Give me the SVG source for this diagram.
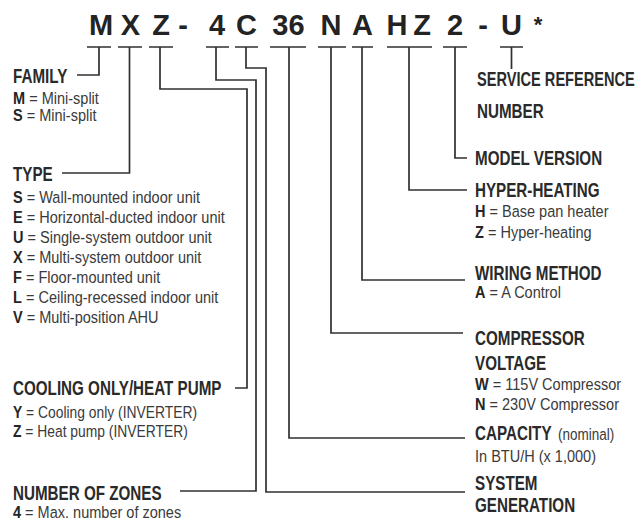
<svg xmlns="http://www.w3.org/2000/svg" width="639" height="521" viewBox="0 0 639 521">
<style>
.hd{font-family:"Liberation Sans",Arial,sans-serif;font-weight:bold;font-size:29px;fill:#232323;text-anchor:middle}
.h{font-family:"Liberation Sans",Arial,sans-serif;font-weight:bold;font-size:20px;fill:#2a2a2a}
.b{font-family:"Liberation Sans",Arial,sans-serif;font-size:16.5px;fill:#3a3a3a}
.k{font-weight:bold;fill:#252525}
.ln{fill:none;stroke:#303030;stroke-width:1.7}
</style>
<rect width="639" height="521" fill="#ffffff"/>
<g id="code">
<text class="hd" x="101" y="35">M</text>
<text class="hd" x="130.5" y="35">X</text>
<text class="hd" x="161" y="35">Z</text>
<text class="hd" x="183" y="35">-</text>
<text class="hd" x="217" y="35">4</text>
<text class="hd" x="246.5" y="35">C</text>
<text class="hd" x="288.5" y="35">36</text>
<text class="hd" x="331" y="35">N</text>
<text class="hd" x="362.5" y="35">A</text>
<text class="hd" x="397" y="35">H</text>
<text class="hd" x="422" y="35">Z</text>
<text class="hd" x="455" y="35">2</text>
<text class="hd" x="483" y="35">-</text>
<text class="hd" x="511.5" y="35">U</text>
<text class="hd" x="538" y="32" style="font-size:22px">*</text>
</g>
<g id="connectors">
<path class="ln" d="M87,47H111M99,47V75H77"/>
<path class="ln" d="M118,47H142M129.5,47V173H62"/>
<path class="ln" d="M149,47H173M160,47V89H247V388H235"/>
<path class="ln" d="M206,47H229M216,47V80H256V491H180"/>
<path class="ln" d="M235,47H258M246,47V68H266V492H465"/>
<path class="ln" d="M270,47H306M289,47V438H465"/>
<path class="ln" d="M318,47H346M331,47V333H463"/>
<path class="ln" d="M352,47H373M362,47V280H465"/>
<path class="ln" d="M387,47H432M409,47V190H467"/>
<path class="ln" d="M443,47H467M455,47V158H467"/>
<path class="ln" d="M500,47H523M511.5,47V69"/>
</g>
<g id="family">
<text class="h" transform="translate(13,83) scale(0.76,1)">FAMILY</text>
<text class="b" transform="translate(13,104) scale(0.88,1)"><tspan class="k">M</tspan> = Mini-split</text>
<text class="b" transform="translate(13,121) scale(0.88,1)"><tspan class="k">S</tspan> = Mini-split</text>
</g>
<g id="type">
<text class="h" transform="translate(13,181) scale(0.76,1)">TYPE</text>
<text class="b" transform="translate(13,203) scale(0.88,1)"><tspan class="k">S</tspan> = Wall-mounted indoor unit</text>
<text class="b" transform="translate(13,223) scale(0.88,1)"><tspan class="k">E</tspan> = Horizontal-ducted indoor unit</text>
<text class="b" transform="translate(13,243) scale(0.88,1)"><tspan class="k">U</tspan> = Single-system outdoor unit</text>
<text class="b" transform="translate(13,263) scale(0.88,1)"><tspan class="k">X</tspan> = Multi-system outdoor unit</text>
<text class="b" transform="translate(13,283) scale(0.88,1)"><tspan class="k">F</tspan> = Floor-mounted unit</text>
<text class="b" transform="translate(13,303) scale(0.88,1)"><tspan class="k">L</tspan> = Ceiling-recessed indoor unit</text>
<text class="b" transform="translate(13,323) scale(0.88,1)"><tspan class="k">V</tspan> = Multi-position AHU</text>
</g>
<g id="cooling">
<text class="h" transform="translate(13,395) scale(0.76,1)">COOLING ONLY/HEAT PUMP</text>
<text class="b" transform="translate(13,418) scale(0.84,1)"><tspan class="k">Y</tspan> = Cooling only (INVERTER)</text>
<text class="b" transform="translate(13,437) scale(0.84,1)"><tspan class="k">Z</tspan> = Heat pump (INVERTER)</text>
</g>
<g id="zones">
<text class="h" transform="translate(13,500) scale(0.76,1)">NUMBER OF ZONES</text>
<text class="b" transform="translate(13,518) scale(0.88,1)"><tspan class="k">4</tspan> = Max. number of zones</text>
</g>
<g id="service">
<text class="h" transform="translate(477,86) scale(0.73,1)">SERVICE REFERENCE</text>
<text class="h" transform="translate(477,118) scale(0.76,1)">NUMBER</text>
</g>
<g id="model">
<text class="h" transform="translate(475,165) scale(0.76,1)">MODEL VERSION</text>
</g>
<g id="hyper">
<text class="h" transform="translate(475,197) scale(0.76,1)">HYPER-HEATING</text>
<text class="b" transform="translate(475,217) scale(0.88,1)"><tspan class="k">H</tspan> = Base pan heater</text>
<text class="b" transform="translate(475,238) scale(0.88,1)"><tspan class="k">Z</tspan> = Hyper-heating</text>
</g>
<g id="wiring">
<text class="h" transform="translate(475,280) scale(0.76,1)">WIRING METHOD</text>
<text class="b" transform="translate(475,298) scale(0.88,1)"><tspan class="k">A</tspan> = A Control</text>
</g>
<g id="compressor">
<text class="h" transform="translate(475,345) scale(0.76,1)">COMPRESSOR</text>
<text class="h" transform="translate(475,370) scale(0.76,1)">VOLTAGE</text>
<text class="b" transform="translate(475,390) scale(0.88,1)"><tspan class="k">W</tspan> = 115V Compressor</text>
<text class="b" transform="translate(475,410) scale(0.88,1)"><tspan class="k">N</tspan> = 230V Compressor</text>
</g>
<g id="capacity">
<text class="h" transform="translate(475,440) scale(0.76,1)">CAPACITY</text>
<text class="b" transform="translate(558,440) scale(0.82,1)">(nominal)</text>
<text class="b" transform="translate(475,462) scale(0.88,1)">In BTU/H (x 1,000)</text>
</g>
<g id="generation">
<text class="h" transform="translate(475,490) scale(0.76,1)">SYSTEM</text>
<text class="h" transform="translate(475,512) scale(0.76,1)">GENERATION</text>
</g>
</svg>
